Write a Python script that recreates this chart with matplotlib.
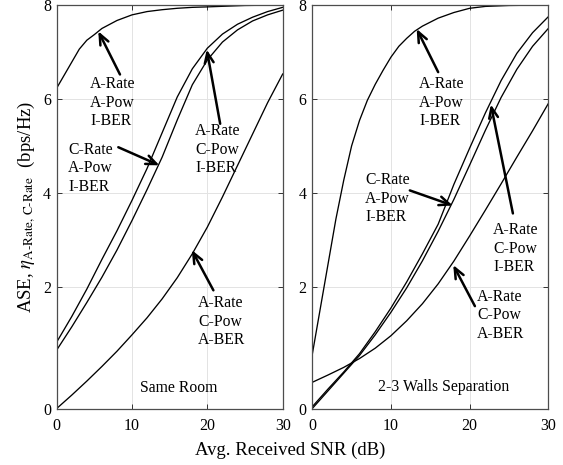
import numpy as np
import matplotlib.pyplot as plt

plt.rcParams['font.family'] = 'serif'
plt.rcParams['font.serif'] = ['Liberation Serif', 'DejaVu Serif']
plt.rcParams['mathtext.fontset'] = 'stix'

# ---- data (SNR in dB, ASE in bps/Hz) ----
# Same Room
snr_room_aa = [0, 3, 4, 5, 6, 8, 10, 12, 14, 16, 18, 20, 25, 30]
ase_room_aa = [6.23, 7.06, 7.25, 7.37, 7.5, 7.67, 7.79, 7.86, 7.9, 7.93, 7.95, 7.96, 7.99, 8.0]

snr_room = [0, 2, 4, 6, 8, 10, 12, 14, 16, 18, 20, 22, 24, 26, 28, 30]
ase_room_ac = [1.09, 1.51, 1.96, 2.58, 3.19, 3.84, 4.52, 5.28, 6.04, 6.64, 7.08, 7.38, 7.59, 7.74, 7.86, 7.95]
ase_room_ca = [0.96, 1.34, 1.74, 2.20, 2.78, 3.41, 4.07, 4.76, 5.55, 6.30, 6.83, 7.21, 7.47, 7.66, 7.79, 7.89]
ase_room_aber = [0.0, 0.22, 0.45, 0.69, 0.94, 1.21, 1.49, 1.80, 2.19, 2.70, 3.27, 3.91, 4.58, 5.25, 5.92, 6.53]

# 2-3 Walls Separation
snr_wall_aa = [0, 1, 2, 3, 4, 5, 6, 7, 8, 9, 10, 11, 12, 13, 14, 16, 18, 20, 22, 25, 30]
ase_wall_aa = [0.89, 1.63, 2.48, 3.44, 4.27, 5.0, 5.54, 5.97, 6.31, 6.61, 6.89, 7.12, 7.29, 7.44,
               7.55, 7.72, 7.84, 7.93, 7.97, 7.99, 8.0]

snr_wall = [0, 2, 4, 6, 8, 10, 12, 14, 16, 18, 20, 22, 24, 26, 28, 30]
ase_wall_ac = [0.03, 0.32, 0.60, 0.90, 1.26, 1.65, 2.10, 2.70, 3.33, 4.18, 4.95, 5.70, 6.39, 6.97, 7.41, 7.75]
ase_wall_ca = [0.0, 0.29, 0.58, 0.87, 1.21, 1.58, 1.98, 2.55, 3.18, 3.86, 4.59, 5.33, 6.03, 6.63, 7.12, 7.50]
ase_wall_aber = [0.43, 0.55, 0.675, 0.82, 0.99, 1.195, 1.44, 1.72, 2.06, 2.545, 3.08, 3.63, 4.19, 4.76, 5.32, 5.90]

lbl_aa = "A-Rate\nA-Pow\nI-BER"
lbl_ca = "C-Rate\nA-Pow\nI-BER"
lbl_ac = "A-Rate\nC-Pow\nI-BER"
lbl_aber = "A-Rate\nC-Pow\nA-BER"

# the y axis of the original is stretched below 2
k = 61 / 47


def fwd(y):
    y = np.asarray(y, float)
    return np.where(y < 2, y * k, 2 * k + (y - 2))


def inv(t):
    t = np.asarray(t, float)
    return np.where(t < 2 * k, t / k, t - 2 * k + 2)


def setup(ax):
    ax.set_yscale('function', functions=(fwd, inv))
    ax.set_xlim(0, 30)
    ax.set_ylim(0, 8)
    ax.set_xticks([0, 10, 20, 30])
    ax.set_yticks([0, 2, 4, 6, 8])
    ax.grid(True, color='#e3e3e3', lw=0.7)
    ax.set_axisbelow(True)
    ax.tick_params(direction='in', top=True, right=True, length=3.5, width=0.7,
                   labelsize=11.5, color='#333333')
    ax.tick_params(axis='x', pad=7)
    ax.tick_params(axis='y', pad=4)
    for s in ax.spines.values():
        s.set_color('#4d4d4d')
        s.set_linewidth(0.9)


def arrow(ax, tail, tip):
    ax.annotate('', xy=tip, xytext=tail,
                arrowprops=dict(arrowstyle='->,head_length=0.75,head_width=0.32',
                                lw=1.8, color='k', shrinkA=0, shrinkB=0))


fig = plt.figure(figsize=(5.63, 4.65), dpi=100)
ax1 = fig.add_axes([56.7 / 563, 56.5 / 465, 226 / 563, 403.5 / 465])
ax2 = fig.add_axes([312.3 / 563, 56.5 / 465, 236 / 563, 403.5 / 465])

lw = 0.95
tfs = 11.3

# left panel
setup(ax1)
ax1.plot(snr_room_aa, ase_room_aa, color='k', lw=lw)
ax1.plot(snr_room, ase_room_ac, color='k', lw=lw)
ax1.plot(snr_room, ase_room_ca, color='k', lw=lw)
ax1.plot(snr_room, ase_room_aber, color='k', lw=lw)

ax1.text(4.44, 6.48, lbl_aa, va='top', ha='left', fontsize=tfs, linespacing=1.2)
ax1.text(1.54, 5.08, lbl_ca, va='top', ha='left', fontsize=tfs, linespacing=1.2)
ax1.text(18.36, 5.48, lbl_ac, va='top', ha='left', fontsize=tfs, linespacing=1.2)
ax1.text(18.8, 1.86, lbl_aber, va='top', ha='left', fontsize=tfs, linespacing=1.2)
arrow(ax1, (8.4, 6.52), (5.52, 7.44))
arrow(ax1, (8.18, 4.97), (13.63, 4.585))
arrow(ax1, (21.7, 5.47), (19.92, 7.05))
arrow(ax1, (20.8, 1.94), (17.93, 2.78))
ax1.text(16.15, 0.33, "Same Room", ha='center', va='center', fontsize=tfs)

ax1.set_ylabel(r"ASE, $\eta_{\text{A-Rate, C-Rate}}$  (bps/Hz)", fontsize=13.5, labelpad=4)

# right panel
setup(ax2)
ax2.plot(snr_wall_aa, ase_wall_aa, color='k', lw=lw)
ax2.plot(snr_wall, ase_wall_ac, color='k', lw=lw)
ax2.plot(snr_wall, ase_wall_ca, color='k', lw=lw)
ax2.plot(snr_wall, ase_wall_aber, color='k', lw=lw)

ax2.text(13.56, 6.48, lbl_aa, va='top', ha='left', fontsize=tfs, linespacing=1.2)
ax2.text(6.7, 4.44, lbl_ca, va='top', ha='left', fontsize=tfs, linespacing=1.2)
ax2.text(23.0, 3.37, lbl_ac, va='top', ha='left', fontsize=tfs, linespacing=1.2)
ax2.text(20.97, 1.96, lbl_aber, va='top', ha='left', fontsize=tfs, linespacing=1.2)
arrow(ax2, (16.0, 6.57), (13.27, 7.49))
arrow(ax2, (12.4, 4.05), (17.84, 3.73))
arrow(ax2, (25.5, 3.56), (22.7, 5.88))
arrow(ax2, (20.67, 1.68), (17.92, 2.46))
ax2.text(16.7, 0.36, "2-3 Walls Separation", ha='center', va='center', fontsize=tfs)

fig.text(290 / 563, 10 / 465, "Avg. Received SNR (dB)", ha='center', va='baseline', fontsize=13.5)

fig.savefig('out.png', dpi=100)
